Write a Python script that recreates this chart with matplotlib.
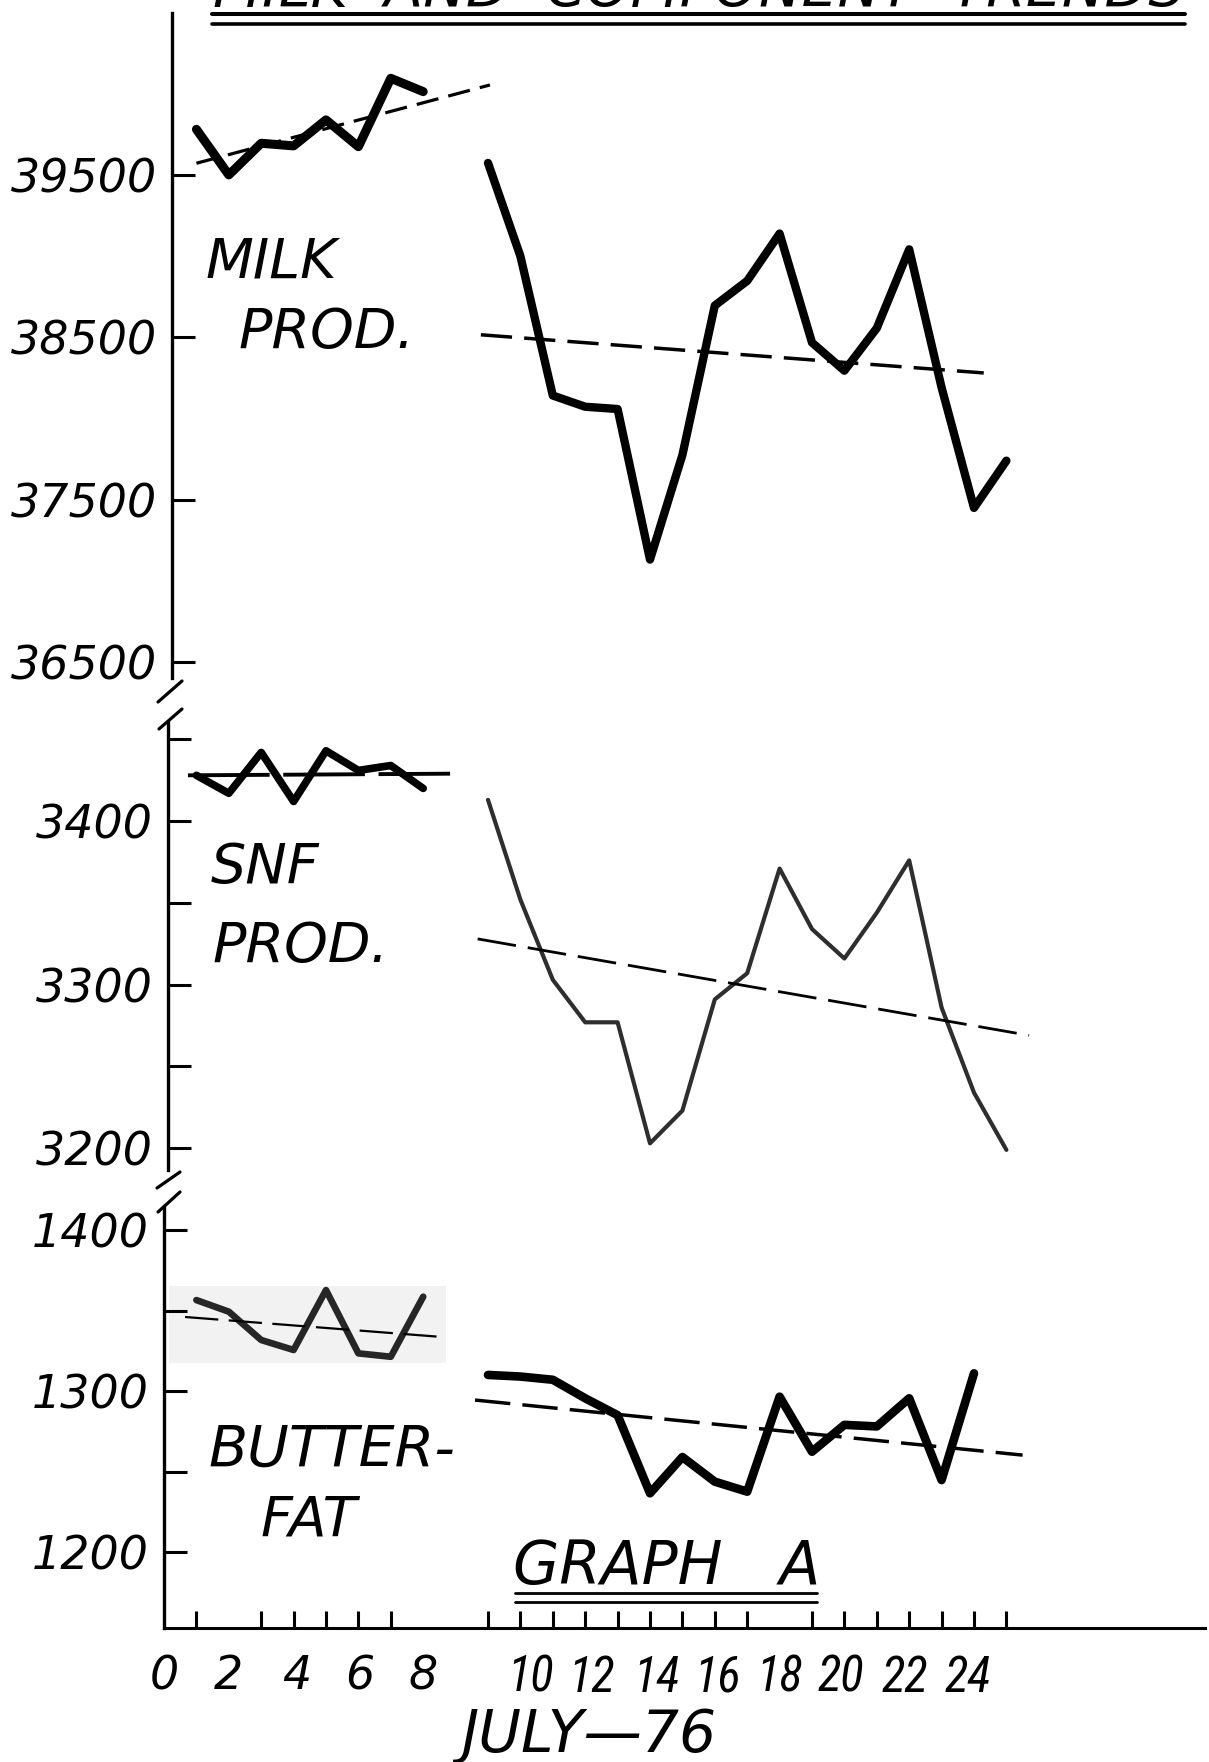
import matplotlib
matplotlib.use("Agg")
import matplotlib.pyplot as plt
from matplotlib.lines import Line2D
from matplotlib.patches import Rectangle
from matplotlib import font_manager as fm

# ---------------- data ----------------
days_left = [1, 2, 3, 4, 5, 6, 7, 8]
days_right = list(range(10, 27))
days_bf_right = list(range(10, 26))

milk_left = [39781, 39500, 39695, 39679, 39839, 39674, 40095, 40013]
milk_right = [39574, 39000, 38142, 38073, 38059, 37132, 37776, 38696, 38848,
              39139, 38468, 38295, 38557, 39042, 38191, 37450, 37741]
milk_trend_left_x = [1.0, 10.06]
milk_trend_left_y = [39572, 40054]
milk_trend_right_x = [9.78, 25.3]
milk_trend_right_y = [38516, 38281]

snf_left = [3428, 3417, 3442, 3412, 3443, 3431, 3434, 3420]
snf_right = [3413, 3352, 3303, 3277, 3277, 3203, 3223, 3291, 3307,
             3371, 3334, 3316, 3344, 3376, 3286, 3234, 3199]
snf_trend_left_x = [0.74, 8.83]
snf_trend_left_y = [3428, 3429]
snf_trend_right_x = [9.68, 26.7]
snf_trend_right_y = [3328, 3269]

bf_left = [1356.5, 1349.3, 1331.7, 1325.5, 1362.7, 1323.4, 1321.3, 1358.6]
bf_right = [1310, 1309, 1307, 1295.5, 1285, 1236.5, 1259, 1243.7,
            1237.5, 1296.5, 1262.3, 1279, 1278, 1295.5, 1244.7, 1311]
bf_trend_left_x = [0.65, 8.5]
bf_trend_left_y = [1346, 1333.7]
bf_trend_right_x = [9.6, 26.5]
bf_trend_right_y = [1294.4, 1260.2]

milk_ticks = [39500, 38500, 37500, 36500]
milk_ticklabels = ["39500", "38500", "37500", "36500"]
snf_ticks = [3450, 3400, 3350, 3300, 3250, 3200]
snf_ticklabels = ["", "3400", "", "3300", "", "3200"]
bf_ticks = [1400, 1350, 1300, 1250, 1200]
bf_ticklabels = ["1400", "", "1300", "", "1200"]

x_tick_marks = [1, 2, 3, 4, 5, 6, 7, 8] + list(range(10, 27))
x_label_pos = [0, 2, 4.1, 6.05, 8, 11.3, 13.2, 15.2, 17.1, 19.0, 20.9, 22.85, 24.8]
x_labels = ["0", "2", "4", "6", "8", "10", "12", "14", "16", "18", "20", "22", "24"]

# ---------------- figure ----------------
W, H = 1209, 1762
fig = plt.figure(figsize=(W / 100, H / 100), dpi=100)
fig.patch.set_facecolor("white")


def fx(px):
    return px / W


def fy(py):
    return 1 - py / H


names = {f.name for f in fm.fontManager.ttflist}
narrow = next((n for n in ["Liberation Sans Narrow", "Roboto Condensed",
                           "Open Sans Condensed"] if n in names), "Liberation Sans")
BASE = "DejaVu Sans"

L, R = 164, 1205
PX_PER_DAY = 32.4
xmax = (R - L) / PX_PER_DAY
wfrac = (R - L) / W

ax1 = fig.add_axes([fx(L), fy(678), wfrac, (678 - 13) / H])
ax2 = fig.add_axes([fx(L), fy(1170), wfrac, (1170 - 722) / H])
ax3 = fig.add_axes([fx(L), fy(1628), wfrac, (1628 - 1208) / H])

ax1.set_ylim(36403, 40497)
ax2.set_ylim(3186.7, 3460.6)
ax3.set_ylim(1152.8, 1413.7)

for ax in (ax1, ax2, ax3):
    ax.set_xlim(0, xmax)
    ax.set_facecolor("none")
    ax.spines["top"].set_visible(False)
    ax.spines["right"].set_visible(False)
    ax.spines["left"].set_linewidth(2.4)
    ax.tick_params(axis="y", direction="in", length=16.5, width=2.2, pad=11,
                   labelsize=33)
for ax in (ax1, ax2):
    ax.spines["bottom"].set_visible(False)
    ax.set_xticks([])
ax1.spines["left"].set_position(("outward", -5.8))
ax2.spines["left"].set_position(("outward", -2.9))
ax3.spines["bottom"].set_linewidth(2.2)

ax1.set_yticks(milk_ticks, milk_ticklabels)
ax2.set_yticks(snf_ticks, snf_ticklabels)
ax3.set_yticks(bf_ticks, bf_ticklabels)
for ax in (ax1, ax2, ax3):
    for t in ax.get_yticklabels():
        t.set_fontstyle("italic")
        t.set_fontfamily(BASE)

ax3.set_xticks(x_label_pos, x_labels)
ax3.set_xticks(x_tick_marks, minor=True)
ax3.tick_params(axis="x", which="major", length=0, pad=19, labelsize=33)
ax3.tick_params(axis="x", which="minor", direction="in", length=12, width=2.2)
for t in ax3.get_xticklabels():
    t.set_fontstyle("italic")
    if len(t.get_text()) > 1:
        t.set_fontfamily(narrow)
        t.set_fontsize(35)
    else:
        t.set_fontfamily(BASE)

rk = dict(solid_capstyle="round", solid_joinstyle="round", clip_on=False)
dk = dict(dash_capstyle="butt", clip_on=False, color="black")

# milk
ax1.plot(days_left, milk_left, color="black", lw=6.5, **rk)
ax1.plot(days_right, milk_right, color="black", lw=6.0, **rk)
ax1.plot(milk_trend_left_x, milk_trend_left_y, lw=2.3, dashes=(7.0, 3.2), **dk)
ax1.plot(milk_trend_right_x, milk_trend_right_y, lw=2.5, dashes=(9.0, 3.5), **dk)

# snf
ax2.plot(days_left, snf_left, color="black", lw=5.5, **rk)
ax2.plot(days_right, snf_right, color="#2e2e2e", lw=3.0, **rk)
ax2.plot(snf_trend_left_x, snf_trend_left_y, lw=2.8, dashes=(21, 3.5), **dk)
ax2.plot(snf_trend_right_x, snf_trend_right_y, lw=2.0, dashes=(14, 4.3), **dk)

# butterfat
ax3.add_patch(Rectangle((0.15, 1317.4), 8.55, 47.8, facecolor="#f2f2f2",
                        edgecolor="none", zorder=0))
ax3.plot(days_left, bf_left, color="#262626", lw=4.8, **rk)
ax3.plot(days_bf_right, bf_right, color="black", lw=6.2, **rk)
ax3.plot(bf_trend_left_x, bf_trend_left_y, lw=1.6, dashes=(15, 4.7), **dk)
ax3.plot(bf_trend_right_x, bf_trend_right_y, lw=2.5, dashes=(10.2, 3.5), **dk)


# ---------------- annotations ----------------
def fline(x0, y0, x1, y1, lw):
    fig.add_artist(Line2D([fx(x0), fx(x1)], [fy(y0), fy(y1)], color="black",
                          lw=lw, solid_capstyle="round",
                          transform=fig.transFigure))


# axis break marks
fline(158, 702, 182, 681, 2.3)
fline(159, 729, 182, 709, 2.3)
fline(157, 1188, 180, 1172, 2.3)
fline(158, 1212, 180, 1192, 2.3)

# title (cut by the top edge, as in the original) with double underline
fig.text(fx(213), fy(7), "MILK  AND  COMPONENT  TRENDS", fontsize=41,
         style="italic", family=BASE, ha="left", va="baseline")
fline(212, 14, 1185, 14, 2.9)
fline(212, 23.5, 1185, 23.5, 2.6)

lab = dict(fontsize=40, style="italic", family=BASE, ha="left", va="baseline")
fig.text(fx(206), fy(278), "MILK", **lab)
fig.text(fx(239), fy(348), "PROD.", **lab)
fig.text(fx(211), fy(883), "SNF", **lab)
fig.text(fx(213), fy(962), "PROD.", **lab)
fig.text(fx(208), fy(1467), "BUTTER-", fontsize=41, style="italic",
         family=BASE, ha="left", va="baseline")
fig.text(fx(261), fy(1535), "FAT", **lab)
fig.text(fx(513), fy(1584), "GRAPH   A", fontsize=43, style="italic",
         family=BASE, ha="left", va="baseline")
fline(515, 1593, 817, 1593, 2.0)
fline(515, 1602, 817, 1602, 2.0)

fig.text(fx(589), fy(1752), "JULY—76", fontsize=42, style="italic",
         family=BASE, ha="center", va="baseline")

fig.savefig("out.png", dpi=100, facecolor="white")
